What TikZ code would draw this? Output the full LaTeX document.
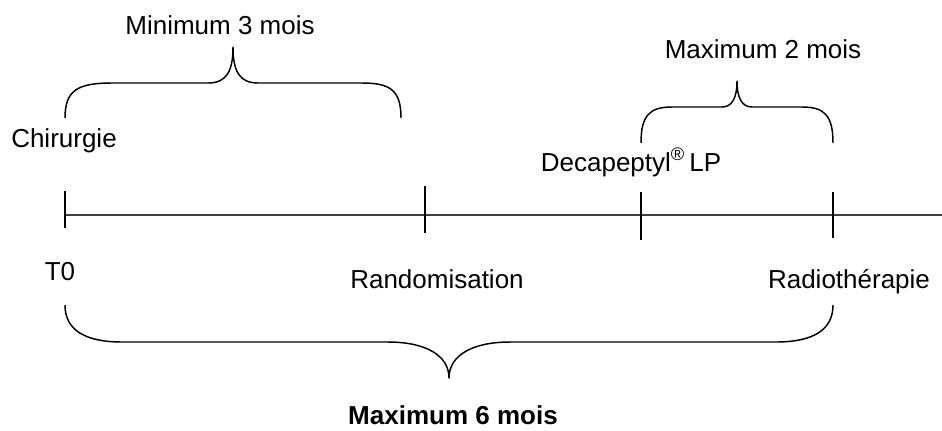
\documentclass[tikz,border=0pt]{standalone}
\usepackage{fontspec}
\setmainfont{Liberation Sans}
\begin{document}
\begin{tikzpicture}[x=0.75pt,y=-0.75pt,
  lbl/.style={inner sep=0pt,anchor=base,font=\fontsize{19.5}{23}\selectfont},
  tick/.style={line width=1.1pt,black},
  axis/.style={line width=1.1pt,black!75},
  brace/.style={line width=1.1pt,black,line join=round}]
\useasboundingbox (0,0) rectangle (942,430);
% axis
\coordinate (start) at (65,215);
\coordinate (end) at (942,215);
\draw[axis] (start) -- (end);
% ticks
\coordinate (t0a) at (65,191); \coordinate (t0b) at (65,228);
\coordinate (t1a) at (425,186); \coordinate (t1b) at (425,233);
\coordinate (t2a) at (641,192); \coordinate (t2b) at (641,240);
\coordinate (t3a) at (833,192); \coordinate (t3b) at (833,238);
\draw[tick] (t0a) -- (t0b);
\draw[tick] (t1a) -- (t1b);
\draw[tick] (t2a) -- (t2b);
\draw[tick] (t3a) -- (t3b);
% labels
\node[lbl] (chir) at (64,147) {Chirurgie};
\node[lbl] (t0) at (60,280) {T0};
\node[lbl] (rand) at (437,288) {Randomisation};
\node[lbl] (radio) at (849,288) {Radiothérapie};
\node[lbl] (deca) at (631,171) {Decapeptyl\textsuperscript{\textregistered}\,LP};
\node[lbl] (min3) at (220,34) {Minimum 3 mois};
\node[lbl] (max2) at (763,58) {Maximum 2 mois};
\node[lbl,font=\fontsize{19.5}{23}\selectfont\bfseries] (max6) at (453,424) {Maximum 6 mois};
% brace 1
\coordinate (b1l) at (65,118); \coordinate (b1r) at (401,118); \coordinate (b1t) at (233,47);
\draw[brace] (b1l) .. controls (65,90) and (78,83) .. (112,83) -- (208,83)
  .. controls (226,83) and (233,72) .. (b1t)
  .. controls (233,72) and (240,83) .. (258,83) -- (362,83)
  .. controls (390,83) and (401,90) .. (b1r);
% brace 2
\coordinate (b2l) at (641,143); \coordinate (b2r) at (833,143); \coordinate (b2t) at (737,81);
\draw[brace] (b2l) .. controls (641,115) and (650,107) .. (672,107) -- (722,107)
  .. controls (732,107) and (737,98) .. (b2t)
  .. controls (737,98) and (742,107) .. (752,107) -- (802,107)
  .. controls (824,107) and (833,115) .. (b2r);
% brace 3
\coordinate (b3l) at (65,305); \coordinate (b3r) at (833,305); \coordinate (b3t) at (449,378);
\draw[brace] (b3l) .. controls (65,330) and (85,342) .. (122,342) -- (388,342)
  .. controls (425,342) and (449,355) .. (b3t)
  .. controls (449,355) and (473,342) .. (510,342) -- (776,342)
  .. controls (813,342) and (833,330) .. (b3r);
\end{tikzpicture}
\end{document}
